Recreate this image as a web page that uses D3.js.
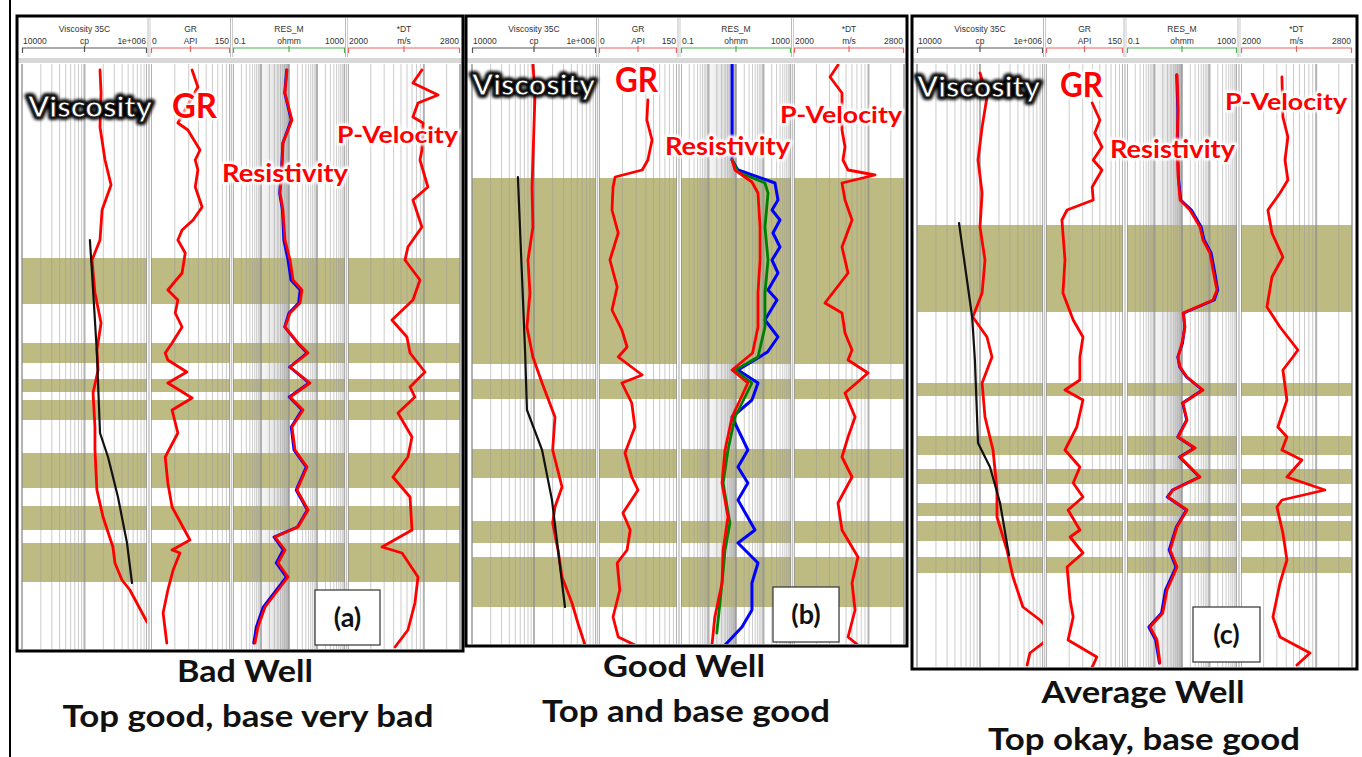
<!DOCTYPE html>
<html><head><meta charset="utf-8">
<script src="https://cdn.jsdelivr.net/npm/d3@7"></script>
<style>body{margin:0;background:#fff;} svg{display:block;}</style>
</head><body>
<svg id="c" width="1362" height="757"></svg>
<script>
// ================= DATA =================
const trackNames  = ["Viscosity 35C", "GR", "RES_M", "*DT"];
const trackUnits  = ["cp", "API", "ohmm", "m/s"];
const trackLeft   = ["10000", "0", "0.1", "2000"];
const trackRight  = ["1e+006", "150", "1000", "2800"];
const trackDomains = [[1e4, 1e6], [0, 150], [0.1, 1000], [2000, 2800]];
const curveLabels = ["Viscosity", "GR", "Resistivity", "P-Velocity"];
const wellLetters = ["(a)", "(b)", "(c)"];
const wellTitles  = ["Bad Well", "Good Well", "Average Well"];
const wellNotes   = ["Top good, base very bad", "Top and base good", "Top okay, base good"];

// pay zones: [top depth, base depth] (m below log top)
const zonesA = [[193,239],[278,298],[314,327],[335,355],[388,423],[441,465],[478,517]];
const zonesB = [[113,299],[314,334],[384,413],[456,478],[492,542]];
const zonesC = [[160,247],[318,331],[371,390],[404,419],[438,451],[456,476],[492,508]];

// ---- Well (a) ---- [depth, value]
const viscA = [[5,1.77e5],[28,1.84e5],[62,1.77e5],[95,2.13e5],[120,2.66e5],[145,1.91e5],[175,1.77e5],[195,1.32e5],[228,1.47e5],[258,1.84e5],[285,1.58e5],[305,1.65e5],[328,1.37e5],[362,1.47e5],[385,1.47e5],[425,1.58e5],[452,1.98e5],[482,2.85e5],[498,3.07e5],[515,3.98e5],[525,5.33e5],[557,1.0e6]];
const viscModelA = [[175,1.22e5],[208,1.32e5],[288,1.58e5],[368,1.77e5],[392,2.38e5],[432,3.43e5],[478,4.79e5],[518,5.75e5]];
const grA = [[5,78],[22,89],[58,51],[65,70],[85,93],[95,84],[105,89],[122,84],[142,97],[155,80],[165,59],[175,51],[188,65],[208,59],[225,32],[235,51],[248,46],[262,59],[278,40],[288,27],[295,32],[307,68],[318,32],[333,78],[345,40],[368,51],[392,27],[418,32],[442,40],[475,74],[485,40],[488,55],[505,42],[525,32],[548,23],[578,30]];
const resA = [[5,8.5],[28,7.2],[55,12.8],[78,6.1],[105,5.6],[128,4.8],[145,6.1],[175,7.2],[195,10.9],[215,13.9],[225,29],[238,24.7],[248,10.9],[262,7.2],[278,21],[288,48],[302,10.9],[318,56],[332,10.9],[345,31.6],[362,12.8],[385,16.4],[402,44],[425,19.3],[445,48],[462,21],[472,3.16],[485,7.2],[498,4.05],[512,9.2],[525,4.05],[542,1.39],[562,0.78],[578,0.61]];
const resBlueA = [[5,8.2],[28,7.0],[55,12],[78,6.0],[105,5.4],[128,4.6],[145,5.8],[175,6.5],[195,9.2],[215,11.8],[225,25],[238,22],[248,10],[262,7.0],[278,20],[288,44],[302,10.5],[318,52],[332,10.2],[345,29],[362,12],[385,15],[402,41],[425,18],[445,45],[462,20],[472,2.9],[485,6.2],[498,3.5],[512,8.0],[525,3.5],[542,1.2],[562,0.68],[578,0.55]];
const dtA = [[5,2528],[18,2464],[30,2643],[38,2500],[52,2464],[58,2536],[85,2528],[95,2514],[122,2571],[135,2464],[162,2528],[182,2428],[195,2407],[215,2514],[235,2464],[255,2314],[272,2421],[288,2443],[307,2550],[322,2443],[332,2478],[348,2357],[372,2457],[392,2428],[412,2321],[432,2443],[465,2457],[482,2243],[488,2386],[512,2500],[538,2478],[565,2428],[582,2336]];

// ---- Well (b) ----
const viscB = [[0,9.6e4],[28,1.04e5],[95,9.6e4],[122,9.3e4],[162,9.6e4],[195,8.0e4],[228,8.6e4],[262,7.7e4],[292,9.6e4],[318,1.35e5],[352,2.18e5],[385,2.0e5],[422,2.83e5],[442,2.18e5],[458,2.0e5],[485,2.44e5],[512,2.83e5],[538,4.1e5],[558,5.1e5],[580,6.65e5]];
const viscModelB = [[112,5.5e4],[288,7.2e4],[345,7.7e4],[385,1.35e5],[435,1.95e5],[542,3.16e5]];
const grB = [[35,94],[55,92],[75,102],[95,94],[105,83],[112,31],[122,27],[145,25],[168,37],[195,21],[222,35],[245,25],[265,44],[282,54],[292,37],[310,83],[318,44],[338,63],[362,69],[388,50],[412,63],[425,75],[448,46],[465,60],[485,54],[498,35],[525,40],[552,27],[572,37],[580,69]];
const resB = [[95,7.2],[105,9.2],[117,38],[128,63],[162,75],[195,75],[228,63],[262,63],[288,40],[305,7.2],[318,27],[352,7.2],[385,4.0],[418,3.1],[452,5.1],[485,3.4],[518,3.1],[552,1.7],[580,1.34]];
const resGreenB = [[95,7.2],[107,11.8],[118,113],[128,146],[162,113],[195,146],[228,113],[262,113],[292,63],[305,9.2],[318,38],[352,9.2],[385,5.1],[418,3.4],[458,6.0],[485,4.0],[518,3.1],[568,2.0]];
const resBlueB = [[0,7.2],[95,7.2],[105,11.8],[118,262],[135,336],[145,204],[155,398],[168,221],[182,398],[195,204],[208,336],[225,146],[235,310],[255,113],[272,336],[287,140],[305,11.8],[318,63],[335,38],[352,7.2],[385,27],[402,11.8],[418,27],[435,11.8],[465,49],[478,11.8],[498,63],[518,38],[545,38],[562,16.5],[580,4.0]];
const dtB = [[0,2320],[12,2262],[28,2349],[65,2349],[82,2371],[95,2356],[105,2393],[110,2589],[118,2349],[135,2371],[155,2422],[182,2349],[208,2393],[238,2225],[248,2349],[268,2371],[285,2422],[295,2393],[308,2538],[328,2371],[352,2444],[372,2393],[392,2349],[412,2422],[438,2320],[465,2349],[492,2465],[518,2422],[545,2444],[572,2393],[580,2465]];

// ---- Well (c) ----
const viscC = [[8,1e5],[32,1.29e5],[62,1.08e5],[95,9.3e4],[128,1.08e5],[162,1e5],[195,1.2e5],[228,1.08e5],[252,7.7e4],[272,1.29e5],[292,1.55e5],[318,1.08e5],[352,1.2e5],[385,1.61e5],[425,1.86e5],[452,1.86e5],[485,2.68e5],[512,3.34e5],[542,4.8e5],[555,8.96e5],[568,1.4e6],[578,1.0e6],[588,6.2e5],[600,5.6e5]];
const viscModelC = [[158,4.64e4],[252,7.5e4],[295,8.3e4],[378,9.3e4],[402,1.44e5],[438,2.08e5],[490,2.88e5]];
const grC = [[38,90],[55,105],[68,95],[82,109],[95,92],[105,109],[122,90],[135,92],[145,41],[155,31],[195,37],[228,33],[255,53],[272,72],[292,66],[315,66],[325,37],[335,72],[362,60],[385,37],[402,66],[418,53],[432,72],[445,43],[465,66],[472,47],[488,72],[502,41],[535,47],[552,53],[575,43],[592,99],[602,90]];
const resC = [[10,6.6],[45,7.2],[78,6.6],[112,7.2],[135,8.5],[145,19.5],[162,45],[175,58],[188,104],[205,134],[225,187],[235,134],[248,10.9],[262,12.9],[278,10],[292,7.2],[302,8.5],[312,15.2],[325,58],[338,10.9],[355,15.2],[372,7.2],[383,30],[392,8.5],[412,45],[425,4.7],[432,3.1],[445,15.2],[462,6.6],[485,3.7],[502,6.6],[525,2.85],[548,2.0],[562,0.69],[575,1.23],[598,1.58]];
const resBlueC = [[10,6.4],[45,7.0],[78,6.9],[112,7.4],[135,9.0],[145,22],[162,50],[175,64],[188,115],[205,150],[225,200],[235,150],[248,11.5],[262,12.5],[278,10.5],[292,7.0],[302,8.2],[312,14.5],[325,55],[338,10.5],[355,14.8],[372,7.0],[383,28],[392,8.2],[412,43],[425,4.5],[432,2.9],[445,14.5],[462,6.2],[485,3.4],[502,6.0],[525,2.5],[548,1.8],[562,0.62],[575,1.1],[598,1.5]];
const dtC = [[12,2295],[52,2302],[72,2338],[95,2317],[115,2338],[128,2281],[145,2194],[168,2223],[192,2302],[212,2223],[242,2187],[262,2281],[285,2410],[292,2374],[305,2302],[335,2331],[362,2266],[372,2331],[385,2295],[395,2439],[412,2331],[425,2605],[435,2295],[442,2259],[468,2302],[495,2331],[518,2281],[552,2230],[572,2281],[588,2497],[600,2403]];

// ================= LAYOUT / STYLE =================
const layout = [
  {box:[17,16,463,651], bottom:649, tracks:[[22,147],[151,230],[233,345],[348,460]],
   labels:[[28,117,124],[172,118,45],[222,182,126],[337,143,121]],
   letter:[315,590,65,55], title:[245,682,136], note:[248,727,371]},
  {box:[466,16,907,646], bottom:644, tracks:[[472,596],[599,677],[681,791],[794,904]],
   labels:[[472,95,123],[615,92,43],[665,155,125],[780,123,122]],
   letter:[773,587,66,55], title:[684,677,162], note:[686,722,288]},
  {box:[912,16,1357,669], bottom:667, tracks:[[917,1043],[1046,1123],[1127,1237],[1241,1352]],
   labels:[[917,97,123],[1060,97,43],[1110,158,125],[1225,110,122]],
   letter:[1193,607,67,55], title:[1143,703,203], note:[1144,750,312]}
];
const labelSizes = [28, 34, 24, 23];
const bracketColors = ["#555", "#f06060", "#4caf50", "#f06060"];
const zoneColor = "#bebb82";

const wells = [
  {zones:zonesA, curves:[
    {t:0,c:"#ff0000",w:2.8,d:viscA},{t:0,c:"#111",w:2.2,d:viscModelA},
    {t:1,c:"#ff0000",w:2.8,d:grA},
    {t:2,c:"#0000ff",w:2.8,d:resBlueA},{t:2,c:"#ff0000",w:2.8,d:resA},
    {t:3,c:"#ff0000",w:2.8,d:dtA}]},
  {zones:zonesB, curves:[
    {t:0,c:"#ff0000",w:2.8,d:viscB},{t:0,c:"#111",w:2.2,d:viscModelB},
    {t:1,c:"#ff0000",w:2.8,d:grB},
    {t:2,c:"#0000ff",w:3,d:resBlueB},{t:2,c:"#008000",w:2.8,d:resGreenB},{t:2,c:"#ff0000",w:2.8,d:resB},
    {t:3,c:"#ff0000",w:2.8,d:dtB}]},
  {zones:zonesC, curves:[
    {t:0,c:"#ff0000",w:2.8,d:viscC},{t:0,c:"#111",w:2.2,d:viscModelC},
    {t:1,c:"#ff0000",w:2.8,d:grC},
    {t:2,c:"#0000ff",w:2.8,d:resBlueC},{t:2,c:"#ff0000",w:2.8,d:resC},
    {t:3,c:"#ff0000",w:2.8,d:dtC}]}
];

// ================= DRAW =================
const svg = d3.select("#c");
const defs = svg.append("defs");
defs.append("filter").attr("id","blur").attr("x","-20%").attr("y","-50%").attr("width","140%").attr("height","200%")
  .append("feGaussianBlur").attr("stdDeviation",1.6);
defs.append("filter").attr("id","soft").attr("x","-20%").attr("y","-50%").attr("width","140%").attr("height","200%")
  .append("feGaussianBlur").attr("stdDeviation",0.8);
const grad = defs.append("linearGradient").attr("id","resShade");
grad.append("stop").attr("offset","0%").attr("stop-color","#000").attr("stop-opacity",0.03);
grad.append("stop").attr("offset","70%").attr("stop-color","#000").attr("stop-opacity",0.13);
grad.append("stop").attr("offset","100%").attr("stop-color","#000").attr("stop-opacity",0.22);

svg.append("line").attr("x1",10).attr("x2",10).attr("y1",0).attr("y2",757)
  .attr("stroke","#000").attr("stroke-width",2);

const FONT = "Lato, 'Open Sans', sans-serif";
const HFONT = "'Liberation Sans', Arial, sans-serif";

function makeX(t, tr) {
  const dom = trackDomains[t];
  return (t === 0 || t === 2) ? d3.scaleLog().domain(dom).range(tr) : d3.scaleLinear().domain(dom).range(tr);
}
function logGrid(dom) {
  const out = [];
  const e0 = Math.floor(Math.log10(dom[0])), e1 = Math.ceil(Math.log10(dom[1]));
  for (let e = e0; e < e1; e++) for (let k = 1; k < 10; k++) {
    const v = k * Math.pow(10, e);
    if (v >= dom[0] && v < dom[1]) out.push({v, major: k === 1});
  }
  out.push({v: dom[1], major: true});
  return out;
}

wells.forEach((well, i) => {
  const L = layout[i];
  const [bx0, by0, bx1, by1] = L.box;
  const g = svg.append("g");
  const top = 64;
  const y = d3.scaleLinear().domain([0, L.bottom - 65]).range([65, L.bottom]);

  g.append("rect").attr("x",bx0).attr("y",by0).attr("width",bx1-bx0).attr("height",by1-by0).attr("fill","#fff");

  // ---- header ----
  L.tracks.forEach((tr, t) => {
    const cx = (tr[0] + tr[1]) / 2;
    g.append("text").attr("x",cx).attr("y",32).attr("text-anchor","middle")
      .attr("font-family",HFONT).attr("font-size",8.5).attr("fill","#333").text(trackNames[t]);
    g.append("text").attr("x",tr[0]+1).attr("y",44).attr("font-family",HFONT).attr("font-size",8.5).attr("fill","#333").text(trackLeft[t]);
    g.append("text").attr("x",tr[1]-1).attr("y",44).attr("text-anchor","end").attr("font-family",HFONT).attr("font-size",8.5).attr("fill","#333").text(trackRight[t]);
    g.append("text").attr("x",cx).attr("y",44).attr("text-anchor","middle").attr("font-family",HFONT).attr("font-size",8.5).attr("fill","#333").text(trackUnits[t]);
    const bc = bracketColors[t];
    g.append("path").attr("d",`M${tr[0]+0.5},53V48H${tr[1]-0.5}V53M${cx},46V52`)
      .attr("fill","none").attr("stroke",bc).attr("stroke-width",1.2);
    if (t > 0) {
      const sx = (L.tracks[t-1][1] + tr[0]) / 2;
      g.append("line").attr("x1",sx-1).attr("x2",sx-1).attr("y1",by0+2).attr("y2",57).attr("stroke","#bbb");
      g.append("line").attr("x1",sx+1).attr("x2",sx+1).attr("y1",by0+2).attr("y2",57).attr("stroke","#ccc");
    }
  });
  g.append("rect").attr("x",bx0).attr("y",58).attr("width",bx1-bx0).attr("height",5).attr("fill","#d8d8d8");

  // ---- tracks ----
  L.tracks.forEach((tr, t) => {
    const x = makeX(t, tr);
    const tg = g.append("g");
    if (t === 2) {
      tg.append("rect").attr("x",x(1)).attr("y",top).attr("width",x(10)-x(1)).attr("height",L.bottom-top)
        .attr("fill","url(#resShade)");
    }
    tg.selectAll("rect.zone").data(well.zones).join("rect").attr("class","zone")
      .attr("x",tr[0]).attr("width",tr[1]-tr[0])
      .attr("y",d => y(d[0])).attr("height",d => y(d[1]) - y(d[0]))
      .attr("fill",zoneColor);
    let grid;
    if (t === 0 || t === 2) grid = logGrid(trackDomains[t]).map(d => ({px: x(d.v), major: d.major}));
    else {
      const gd = t === 1 ? [1,10] : [1,30];
      const gs = d3.scaleLog().domain(gd).range(tr);
      grid = logGrid(gd).map(d => ({px: gs(d.v), major: d.major}));
    }
    tg.selectAll("line.g").data(grid).join("line").attr("class","g")
      .attr("x1",d=>d.px).attr("x2",d=>d.px).attr("y1",top).attr("y2",L.bottom)
      .attr("stroke", d => d.major ? "#8a8a8a" : "#9a9a9a")
      .attr("stroke-opacity", d => d.major ? 0.65 : 0.5)
      .attr("stroke-width", d => d.major ? 2 : 1);
    if (t > 0) {
      const sx = (L.tracks[t-1][1] + tr[0]) / 2;
      g.append("rect").attr("x",L.tracks[t-1][1]).attr("y",top).attr("width",tr[0]-L.tracks[t-1][1]).attr("height",L.bottom-top).attr("fill","#fff");
      g.append("line").attr("x1",sx).attr("x2",sx).attr("y1",top).attr("y2",L.bottom).attr("stroke","#c4c4c4").attr("stroke-width",1.5);
    }
    const cid = `clip${i}_${t}`;
    defs.append("clipPath").attr("id",cid).append("rect")
      .attr("x",tr[0]).attr("y",top).attr("width",tr[1]-tr[0]).attr("height",L.bottom-top);
  });

  // ---- curves ----
  const cg = g.append("g");
  well.curves.forEach(cv => {
    const tr = L.tracks[cv.t];
    const x = makeX(cv.t, tr);
    const line = d3.line().x(d => x(d[1])).y(d => y(d[0])).curve(d3.curveLinear);
    cg.append("path").datum(cv.d).attr("d",line)
      .attr("clip-path",`url(#clip${i}_${cv.t})`)
      .attr("fill","none").attr("stroke",cv.c).attr("stroke-width",cv.w)
      .attr("stroke-linejoin","round").attr("stroke-linecap","round");
  });

  // ---- labels ----
  const lg = g.append("g");
  L.labels.forEach((lb, k) => {
    const [lx, ly, lw] = lb;
    const base = () => lg.append("text").attr("x",lx).attr("y",ly).text(curveLabels[k])
      .attr("font-family",FONT).attr("font-weight",700).attr("font-size",labelSizes[k])
      .attr("textLength",lw).attr("lengthAdjust","spacingAndGlyphs");
    if (k === 0) {
      base().attr("fill","#000").attr("stroke","#000").attr("stroke-width",6).attr("stroke-linejoin","round").attr("filter","url(#blur)");
      base().attr("fill","#fff").attr("stroke","#222").attr("stroke-width",1);
    } else {
      base().attr("fill","#fff").attr("stroke","#fff").attr("stroke-width",5).attr("stroke-linejoin","round").attr("filter","url(#soft)");
      base().attr("fill","#ff0000");
    }
  });

  const [lx, ly, lw, lh] = L.letter;
  g.append("rect").attr("x",lx).attr("y",ly).attr("width",lw).attr("height",lh)
    .attr("fill","#fff").attr("stroke","#333").attr("stroke-width",1.2);
  g.append("text").attr("x",lx+lw/2).attr("y",ly+lh/2+9).attr("text-anchor","middle")
    .attr("font-family",FONT).attr("font-weight",700).attr("font-size",27).attr("fill","#111").text(wellLetters[i]);

  g.append("rect").attr("x",bx0).attr("y",by0).attr("width",bx1-bx0).attr("height",by1-by0)
    .attr("fill","none").attr("stroke","#000").attr("stroke-width",3);

  g.append("text").attr("x",L.title[0]).attr("y",L.title[1]).attr("text-anchor","middle")
    .attr("font-family",FONT).attr("font-weight",700).attr("font-size",30).attr("fill","#111")
    .attr("textLength",L.title[2]).attr("lengthAdjust","spacingAndGlyphs").text(wellTitles[i]);
  g.append("text").attr("x",L.note[0]).attr("y",L.note[1]).attr("text-anchor","middle")
    .attr("font-family",FONT).attr("font-weight",700).attr("font-size",30).attr("fill","#111")
    .attr("textLength",L.note[2]).attr("lengthAdjust","spacingAndGlyphs").text(wellNotes[i]);
});
</script>
</body></html>
